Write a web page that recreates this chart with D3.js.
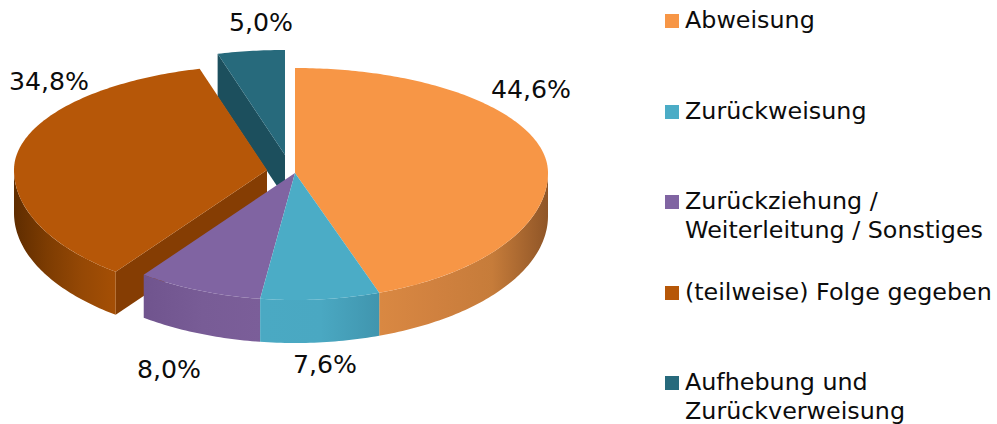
<!DOCTYPE html>
<html>
<head>
<meta charset="utf-8">
<script src="https://cdnjs.cloudflare.com/ajax/libs/d3/7.8.5/d3.min.js"></script>
<style>
    html, body { margin: 0; padding: 0; background: #fff; }
    svg { display: block; }
    text { font-family: "DejaVu Sans", sans-serif; fill: #0c0c0c; }
</style>
</head>
<body>
<div id="chart"></div>
<script>
const categories = ["Abweisung", "Zurückweisung", "Zurückziehung /|Weiterleitung / Sonstiges", "(teilweise) Folge gegeben", "Aufhebung und|Zurückverweisung"];
const values = [44.6, 7.6, 8.0, 34.8, 5.0];
const valueLabels = ["44,6%", "7,6%", "8,0%", "34,8%", "5,0%"];
const colors = ["#f79646", "#4bacc6", "#8064a2", "#b65708", "#276a7c"];

const width = 997, height = 424;
const cx = 295, cy = 173;      // pie apex on screen
const rx = 253;
const ryBack = 105, ryFront = 127, squeeze = 0.85;   // fake perspective, angles bunch up at the back
const depth = 43;

// where each slice got pulled out to
const offsets = [[0, 0], [0, 0], [0, 0], [-28, -3], [-10, -18]];
const labelPos = [[531, 89], [325, 364], [169, 369], [49, 81], [261, 22]];
const legendY = [21, 112, 202, 293, 383];

const svg = d3.select("#chart").append("svg")
    .attr("width", width)
    .attr("height", height);

const defs = svg.append("defs");

const pie = d3.pie().sort(null).value(d => d);
const arcs = pie(values);

// project an angle on the rim, clockwise from the back of the pie
function rim(a, o, dy) {
    let u = Math.sin(a), v = -Math.cos(a);
    if (v < 0) {
        u *= squeeze;
        const n = Math.hypot(u, v);
        u /= n;
        v /= n;
    }
    const y = v < 0 ? ryBack * v : ryFront * v;
    return [cx + o[0] + rx * u, cy + o[1] + dy + y];
}

function rimPoints(a0, a1, o, dy) {
    const n = Math.max(2, Math.ceil((a1 - a0) * 60));
    return d3.range(n + 1).map(i => rim(a0 + (a1 - a0) * i / n, o, dy));
}

const line = d3.line();

function wallGradient(i, x0, x1, stops) {
    const g = defs.append("linearGradient")
        .attr("id", "wall" + i)
        .attr("gradientUnits", "userSpaceOnUse")
        .attr("x1", x0).attr("x2", x1).attr("y1", 0).attr("y2", 0);
    stops.forEach((c, j) => {
        g.append("stop")
            .attr("offset", (100 * j / (stops.length - 1)) + "%")
            .attr("stop-color", c);
    });
    return "url(#wall" + i + ")";
}

const wallFill = [
    wallGradient(0, 380, 548, ["#d98842", "#d0813f", "#c67c3a", "#8f5527"]),
    wallGradient(1, 261, 380, ["#4aa9c3", "#4aa8c2", "#4095ae"]),
    wallGradient(2, 144, 261, ["#70548e", "#785c96", "#7b5e99"]),
    wallGradient(3, 13, 116, ["#5e2c00", "#7d3c02", "#954805", "#a54f05"]),
    "#1c4f5d"
];
const innerFill = ["#b9713a", "#38808f", "#5f4a78", "#853d03", "#1c4f5d"];

const slices = svg.append("g");
const frontStart = Math.PI / 2, frontEnd = Math.PI * 1.5;

// back to front so the nearer slices cover the others
[4, 3, 0, 2, 1].forEach(i => {
    const d = arcs[i], o = offsets[i];
    const apex = [cx + o[0], cy + o[1]];
    const g = slices.append("g").attr("class", "slice");

    // cut faces, only the pulled out slices show them
    if (i === 3 || i === 4) {
        const p = rim(d.startAngle, o, 0), q = rim(d.startAngle, o, depth);
        g.append("path")
            .attr("d", line([apex, p, q, [apex[0], apex[1] + depth]]) + "Z")
            .attr("fill", innerFill[i]);
    }

    // outer wall, front half only
    const a0 = Math.max(d.startAngle, frontStart), a1 = Math.min(d.endAngle, frontEnd);
    if (a1 > a0) {
        const top = rimPoints(a0, a1, o, 0);
        const bottom = rimPoints(a0, a1, o, depth).reverse();
        g.append("path")
            .attr("d", line(top.concat(bottom)) + "Z")
            .attr("fill", wallFill[i]);
    }

    // top face
    g.append("path")
        .attr("d", line([apex].concat(rimPoints(d.startAngle, d.endAngle, o, 0))) + "Z")
        .attr("fill", colors[i]);
});

svg.append("g").selectAll("text")
    .data(valueLabels)
    .join("text")
    .attr("x", (d, i) => labelPos[i][0])
    .attr("y", (d, i) => labelPos[i][1])
    .attr("dy", ".35em")
    .attr("text-anchor", "middle")
    .style("font-size", "25.2px")
    .text(d => d);

const legend = svg.append("g").selectAll("g")
    .data(categories)
    .join("g")
    .attr("transform", (d, i) => "translate(665," + legendY[i] + ")");

legend.append("rect")
    .attr("y", -7)
    .attr("width", 14)
    .attr("height", 14)
    .attr("fill", (d, i) => colors[i]);

legend.append("text")
    .style("font-size", "23.8px")
    .selectAll("tspan")
    .data(d => d.split("|"))
    .join("tspan")
    .attr("x", 20)
    .attr("y", (d, i) => 7 + i * 28.7)
    .text(d => d);
</script>
</body>
</html>
